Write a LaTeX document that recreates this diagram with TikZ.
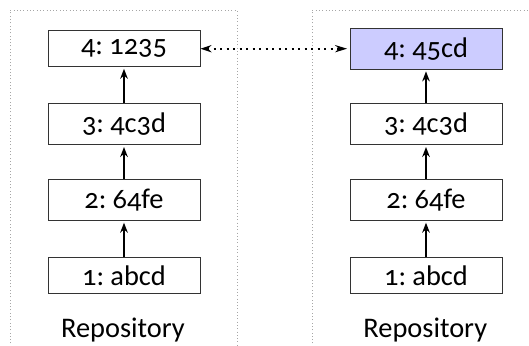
\documentclass[tikz,border=0pt]{standalone}
\usepackage{fontspec}
\setmainfont{Carlito}[Numbers=OldStyle]
\usetikzlibrary{arrows.meta}
\begin{document}
\begin{tikzpicture}[x=0.5pt,y=-0.5pt,
  commit/.style={draw=black!80, line width=0.5pt, minimum width=76pt,
    inner sep=0pt, font=\fontsize{14.2}{16}\selectfont},
  short/.style={minimum height=18pt},
  tall/.style={minimum height=20.6pt},
  fresh/.style={fill=blue!20},
  parent/.style={-{Stealth[length=5pt,width=3.8pt]}, line width=1pt,
    shorten >=0.8pt},
  sync/.style={{Stealth[length=5.5pt,width=3.6pt]}-{Stealth[length=6pt,width=3.6pt]},
    line width=1pt, dash pattern=on 1pt off 2.25pt, shorten >=1.2pt},
  frame/.style={draw=black!35, line width=0.5pt, dash pattern=on 0.5pt off 1.15pt},
  caption/.style={font=\fontsize{14.2}{16}\selectfont, anchor=base}]
  \useasboundingbox (0,0) rectangle (529,346);
  \clip (0,0) rectangle (529,346);

  % the two repository frames
  \draw[frame] (10,360) -- (10,10.5) -- (237,10.5) -- (237,360);
  \draw[frame] (312,360) -- (312,10.5) -- (540,10.5);

  % left repository
  \node[commit, short] (l4) at (124,48.7)  {4:\hspace{0.22em}1235};
  \node[commit, tall]  (l3) at (124,124.3) {3:\hspace{0.22em}4c3d};
  \node[commit, tall]  (l2) at (124,200)   {2:\hspace{0.22em}64fe};
  \node[commit, short] (l1) at (124,275.7) {1:\hspace{0.22em}abcd};
  \node[caption] (lc) at (123,338) {Repository};

  % right repository
  \node[commit, tall, fresh] (r4) at (426,48.7)  {4:\hspace{0.22em}45cd};
  \node[commit, tall]        (r3) at (426,124.3) {3:\hspace{0.22em}4c3d};
  \node[commit, tall]        (r2) at (426,200)   {2:\hspace{0.22em}64fe};
  \node[commit, short]       (r1) at (426,275.7) {1:\hspace{0.22em}abcd};
  \node[caption] (rc) at (425.3,338) {Repository};

  % history links
  \draw[parent] (l1) -- (l2);
  \draw[parent] (l2) -- (l3);
  \draw[parent] (l3) -- (l4);
  \draw[parent] (r1) -- (r2);
  \draw[parent] (r2) -- (r3);
  \draw[parent] (r3) -- (r4);

  % conflicting heads
  \draw[sync] (l4) -- (r4);
\end{tikzpicture}
\end{document}
